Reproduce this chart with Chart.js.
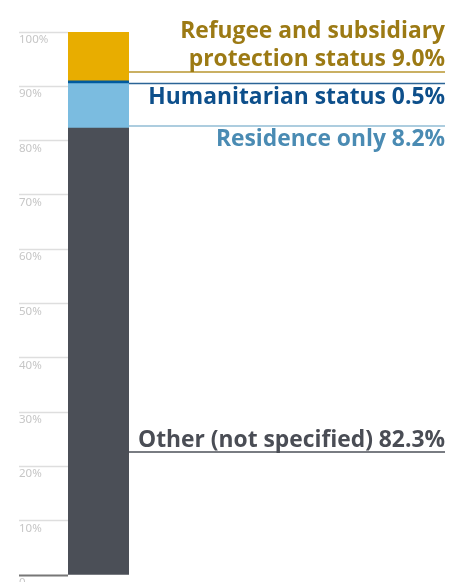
<!DOCTYPE html>
<html>
<head>
<meta charset="utf-8">
<script src="https://cdn.jsdelivr.net/npm/chart.js@4.4.0/dist/chart.umd.min.js"></script>
<style>
    html, body { margin: 0; padding: 0; background: #fff; }
    #wrap { width: 461px; height: 582px; }
</style>
</head>
<body>
<div id="wrap"><canvas id="grafica"></canvas></div>
<script>
// Datos del gráfico (una sola barra apilada, de abajo hacia arriba)
const categorias = ['Total'];
const series = ['Other (not specified)', 'Residence only', 'Humanitarian status', 'Refugee and subsidiary protection status'];
const valores = [82.3, 8.2, 0.5, 9.0];
const coloresBarra = ['#4b4f57', '#7bbce0', '#005a9e', '#e8ad00'];
const ticksY = [0, 10, 20, 30, 40, 50, 60, 70, 80, 90, 100];
const etiquetasY = ['0', '10%', '20%', '30%', '40%', '50%', '60%', '70%', '80%', '90%', '100%'];

// Rótulos de la derecha: texto, color y posición de la línea guía
const rotulos = [
    { lineas: ['Other (not specified) 82.3%'], color: '#4a4d55', linea: '#4d5058', yLinea: 452, bases: [447] },
    { lineas: ['Residence only 8.2%'], color: '#4a8bb3', linea: '#92bcd4', yLinea: 126, bases: [146] },
    { lineas: ['Humanitarian status 0.5%'], color: '#0d4f8b', linea: '#2b6496', yLinea: 83.5, bases: [104] },
    { lineas: ['Refugee and subsidiary', 'protection status 9.0%'], color: '#9c7a14', linea: '#b8962f', yLinea: 72, bases: [38, 66] }
];

const pluginRotulos = {
    id: 'rotulos',
    afterDraw(chart) {
        const ctx = chart.ctx;
        const area = chart.chartArea;
        const escalaY = chart.scales.y;
        const xDer = 445;

        // Etiquetas del eje Y, debajo de cada línea
        ctx.save();
        ctx.font = '11.5px "Noto Sans"';
        ctx.fillStyle = '#c6c6c6';
        ctx.textAlign = 'left';
        ctx.textBaseline = 'top';
        ticksY.forEach((v, i) => {
            ctx.fillText(etiquetasY[i], 19, escalaY.getPixelForValue(v) + 2);
        });
        ctx.restore();

        // Textos de la derecha, comprimidos para parecerse a la fuente original
        ctx.save();
        ctx.font = 'bold 23px "Open Sans"';
        const sx = 307 / ctx.measureText('Other (not specified) 82.3%').width;
        rotulos.forEach(r => {
            ctx.strokeStyle = r.linea;
            ctx.lineWidth = 1.5;
            ctx.beginPath();
            ctx.moveTo(area.right, r.yLinea);
            ctx.lineTo(xDer, r.yLinea);
            ctx.stroke();
            ctx.fillStyle = r.color;
            r.lineas.forEach((t, i) => {
                ctx.save();
                ctx.translate(xDer, r.bases[i]);
                ctx.scale(sx, 1);
                ctx.textAlign = 'right';
                ctx.textBaseline = 'alphabetic';
                ctx.fillText(t, 0, 0);
                ctx.restore();
            });
        });
        ctx.restore();
    }
};

new Chart(document.getElementById('grafica'), {
    type: 'bar',
    data: {
        labels: categorias,
        datasets: series.map((nombre, i) => ({
            label: nombre,
            data: [valores[i]],
            backgroundColor: coloresBarra[i],
            borderWidth: 0,
            barPercentage: 1,
            categoryPercentage: 1
        }))
    },
    options: {
        responsive: true,
        maintainAspectRatio: false,
        animation: false,
        layout: { padding: { top: 32, bottom: 7, left: 19, right: 332 } },
        plugins: { legend: { display: false }, tooltip: { enabled: false } },
        scales: {
            x: { stacked: true, display: false },
            y: {
                stacked: true,
                min: 0,
                max: 100,
                afterBuildTicks: axis => { axis.ticks = ticksY.map(v => ({ value: v })); },
                ticks: { display: false },
                border: { display: false },
                grid: {
                    drawOnChartArea: false,
                    drawTicks: true,
                    tickLength: 49,
                    tickColor: ctx => ctx.tick && ctx.tick.value === 0 ? '#777777' : '#dedede',
                    tickWidth: ctx => ctx.tick && ctx.tick.value === 0 ? 2 : 1.5
                }
            }
        }
    },
    plugins: [pluginRotulos]
});
</script>
</body>
</html>
